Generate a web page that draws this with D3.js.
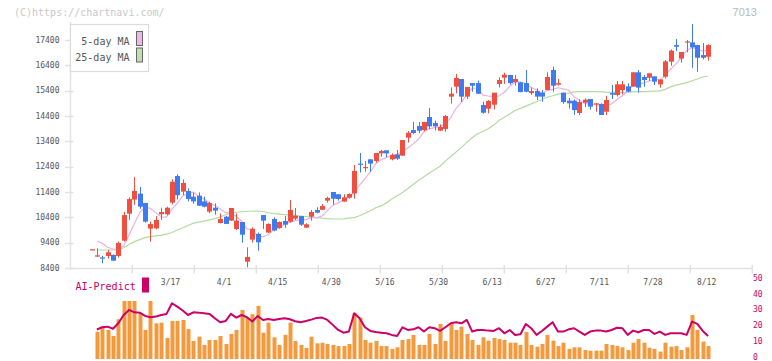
<!DOCTYPE html>
<html><head><meta charset="utf-8">
<script src="https://cdn.jsdelivr.net/npm/d3@7"></script>
<style>html,body{margin:0;padding:0;background:#fff;}svg{display:block;}</style>
</head><body>
<svg id="chart" width="772" height="361"></svg>
<script>
const dates = ["2/21","2/25","2/26","2/27","2/28","3/3","3/4","3/5","3/6","3/7","3/10","3/11","3/12","3/13","3/14","3/17","3/18","3/19","3/21","3/24","3/25","3/26","3/27","3/28","3/31","4/1","4/2","4/3","4/4","4/7","4/8","4/9","4/10","4/11","4/14","4/15","4/16","4/17","4/18","4/21","4/22","4/23","4/24","4/25","4/28","4/30","5/1","5/2","5/7","5/8","5/9","5/12","5/13","5/14","5/15","5/16","5/19","5/20","5/21","5/22","5/23","5/26","5/27","5/28","5/29","5/30","6/2","6/3","6/4","6/5","6/6","6/9","6/10","6/11","6/12","6/13","6/16","6/17","6/18","6/19","6/20","6/23","6/24","6/25","6/26","6/27","6/30","7/1","7/2","7/3","7/4","7/7","7/8","7/9","7/10","7/11","7/14","7/15","7/16","7/17","7/18","7/22","7/23","7/24","7/25","7/28","7/29","7/30","7/31","8/1","8/4","8/5","8/6","8/7","8/8","8/12"];
const tickLabels = ["3/17","4/1","4/15","4/30","5/16","5/30","6/13","6/27","7/11","7/28","8/12"];
const priceTicks = [8400,9400,10400,11400,12400,13400,14400,15400,16400,17400];
const predictTicks = [0,10,20,30,40,50];

const opens = [9140,8850,8820,8875,8915,8875,9480,10545,11100,11335,10965,9955,9965,10520,10520,10980,12030,11415,11440,11215,11255,11030,10625,10780,10175,10425,10270,9940,10215,8650,9520,9750,10490,9800,10335,9980,10255,10230,10350,10450,9995,10425,10690,10700,11060,11400,11310,11020,11175,11345,12520,12360,12690,12625,12925,13045,12690,12885,12835,13545,13845,14005,13845,14360,14125,13820,13890,15165,15560,15860,15165,15700,15700,14835,14690,14845,15665,15915,16020,15740,15730,15700,15305,15385,15320,15425,16215,15640,15320,15005,15005,14520,14925,15070,14875,14875,14570,15305,15230,15425,15570,15560,16125,15940,15910,15965,15650,15950,16545,17200,16665,17320,17305,17200,16805,16740];
const highs = [9150,9180,8875,9110,8940,9440,10620,11190,11990,11600,10965,10230,10450,10780,10820,11900,12100,11900,11545,11375,11385,11215,11020,10950,10555,10450,10770,10555,10215,9215,10000,9800,10490,10160,10400,10240,10450,11085,10770,10455,10165,10690,10795,10925,11215,11400,11310,11310,11345,12465,12940,12625,12690,12940,13060,13045,12925,13060,13452,13810,14165,14165,14165,14715,14215,14070,14440,15530,16060,15860,15545,15700,15795,14965,15030,15320,15925,16110,16020,16020,15730,16215,15520,15490,15425,16125,16345,15860,15320,15110,15055,15055,15095,15070,14905,14900,15200,15625,15780,15780,15690,16125,16215,16020,16085,15965,15845,16610,17030,17440,16925,17400,18030,17200,17280,17230];
const lows = [9130,8840,8585,8780,8690,8810,9440,10295,10890,10740,10190,9440,9925,10295,10480,10915,11110,11270,11030,10940,10850,10795,10555,10505,10165,10135,10268,9900,9400,8425,9400,9085,9940,9780,9850,9950,9990,10190,10295,10060,9980,10270,10560,10690,10980,10900,11060,11020,11140,11140,12165,12200,12200,12560,12795,12770,12650,12665,12834,13350,13690,13730,13795,13885,13835,13820,13780,14885,15295,14950,15070,15360,15265,14490,14505,14660,15530,15665,15635,15600,15335,15335,15240,15030,14965,15420,15360,15595,14885,14690,14440,14440,14755,14650,14570,14440,14440,15070,15165,15255,15335,15555,15320,15555,15780,15625,15520,15885,16385,16965,16505,16910,16305,16150,16635,16585];
const closes = [9140,8900,8800,9020,8690,9390,10490,11120,11440,10820,10230,10135,10295,10610,10780,11805,11270,11755,11125,11030,10860,10820,10965,10665,10335,10140,10770,10270,9715,8835,9950,9415,10270,10140,9880,10215,10110,10690,10465,10110,10125,10610,10585,10845,11165,11135,11125,11190,11320,12230,12490,12385,12520,12940,13020,12925,12860,12715,13450,13740,13730,13820,14165,13990,13990,13965,14400,15280,15900,15165,15545,15595,15280,14530,14990,15320,15820,16030,15700,15860,15345,15360,15385,15165,15165,15940,15595,15700,14950,14900,14635,14950,15045,14770,14900,14440,15030,15240,15650,15650,15360,16125,15520,15820,16085,15755,15845,16555,16980,17135,16925,17345,17110,16700,16700,17200];

const ma5 = [null,9466,9374,9216,9150,9150,9270,9700,10150,10600,10820,10750,10585,10420,10410,10725,10950,11245,11345,11395,11210,11120,10960,10870,10730,10585,10575,10435,10245,9945,9910,9635,9635,9720,9930,9985,10125,10205,10270,10320,10300,10400,10380,10455,10665,10870,10970,11090,11185,11400,11670,11925,12190,12515,12670,12760,12855,12890,12995,13140,13300,13490,13780,13890,13940,13985,14100,14325,14705,14940,15260,15495,15495,15225,15190,15145,15190,15340,15570,15745,15750,15660,15530,15425,15285,15405,15450,15515,15470,15415,15155,15025,14895,14860,14860,14820,14835,14875,15050,15200,15385,15605,15660,15695,15780,15860,15805,16010,16245,16455,16690,16990,17100,17045,16955,17010];
const ma25 = [null,9110,9110,9110,9110,9130,9200,9330,9440,9520,9600,9640,9670,9700,9740,9800,9900,9990,10080,10170,10210,10250,10300,10350,10420,10500,10560,10600,10620,10640,10640,10650,10630,10580,10550,10530,10510,10490,10470,10450,10430,10410,10390,10365,10350,10340,10335,10340,10370,10390,10460,10560,10660,10780,10850,10970,11120,11250,11380,11540,11700,11860,12000,12150,12280,12420,12620,12800,12980,13160,13360,13540,13700,13790,13900,14040,14220,14350,14480,14620,14700,14790,14880,14960,15040,15140,15200,15260,15290,15300,15350,15360,15360,15360,15360,15350,15340,15335,15335,15335,15340,15350,15360,15360,15370,15380,15390,15450,15550,15620,15670,15720,15790,15860,15940,15980];

const volume = [null,16.5,19.7,17.6,13.8,24.3,35.8,35.8,35.8,28.1,17.6,35.8,21.8,22.2,12.6,23.3,23.3,23.9,18.2,10.7,13.4,8.2,11.3,11.3,13.8,8.8,15.1,17.6,30.2,25,27.5,32.7,15.9,22.2,13,8.2,14.5,22.2,10.7,8.2,6.3,13.4,9.2,9.6,8.8,8.2,7.5,7.5,8.8,28.1,25.4,11.3,9.6,10.7,7.5,7.5,5.7,6.7,11.3,11.9,14.5,8.2,8.2,15.1,8.8,21.4,10.7,21.8,17.6,19.7,15.1,11.3,8.2,13,10.9,12.6,11.9,11.3,9.6,9.6,8.2,16.4,8.2,7.1,8.8,14.5,10.9,7.5,9.6,5.7,6.7,6.7,5,4.6,4.6,4.6,8.8,8.2,7.5,6.7,5,9.6,11.9,9.6,6.5,5.7,4,9.6,7.1,7.5,5,6.7,27,17.6,10.3,7.5];
const aiPredict = [null,17.9,19.3,19.7,18.4,21.8,27,30.2,28.7,28.5,26.4,25.6,26,27,27.7,34.4,32.3,29.8,27,28.7,28.5,28.1,27.7,25,22.5,23.2,27.7,25.4,27,25.6,22.9,26.4,23.9,24.5,23.9,24.5,25,24.3,23.1,22.5,23.2,24.1,25.2,25.4,23.9,20.8,17.6,15.9,16.6,28.1,25,19.3,17,16.3,15.9,15.5,14.5,13.8,19.3,17.6,18,19.3,16.6,19.3,18.7,17,19.3,21.8,22.5,21.8,23.9,16.6,17.6,17.6,17.2,17,18.7,15.5,17.6,14.5,14.9,21.4,18.7,14.5,17,19.7,22.5,16.6,16.6,18,18.7,16.6,14.5,16.6,17.2,17.2,16.6,17.6,19,18.7,14.5,17.2,16.2,17.6,17.6,15.1,16.6,14.5,15.5,15.5,15.5,14.5,22.9,21.4,17,13.8];

const UP = "#f04e3e", DOWN = "#3e7bf0", AXIS = "#e2e2e2", TXT = "#555", MAG = "#cc0066";
const svg = d3.select("#chart");

// scales
const x = d3.scaleLinear().domain([0, dates.length - 1]).range([91.5, 708.1]);
const gridX = d3.scaleLinear().domain([0, 11]).range([70.3, 752.3]);
const y = d3.scaleLinear().domain([8400, 17400]).range([268, 40]);
const yb = d3.scaleLinear().domain([0, 50]).range([358, 278.4]);

// watermark + code
svg.append("text").attr("x", 14).attr("y", 16).text("(C)https://chartnavi.com/")
  .attr("font-family", "DejaVu Sans Mono").attr("font-size", 10).attr("fill", "#c8c8c8");
svg.append("text").attr("x", 757).attr("y", 16).attr("text-anchor", "end").text("7013")
  .attr("font-family", "Liberation Sans").attr("font-size", 11).attr("fill", "#b8b8b8");

// axes
const ax = svg.append("g");
ax.append("line").attr("x1", 70.5).attr("x2", 70.5).attr("y1", 22).attr("y2", 270).attr("stroke", AXIS).attr("stroke-width", 1.5);
ax.append("line").attr("x1", 70).attr("x2", 752.5).attr("y1", 268.5).attr("y2", 268.5).attr("stroke", AXIS).attr("stroke-width", 1.5);
ax.selectAll(".gt").data(d3.range(1, 12)).join("line")
  .attr("x1", d => gridX(d)).attr("x2", d => gridX(d)).attr("y1", 265).attr("y2", 273.5)
  .attr("stroke", AXIS).attr("stroke-width", 1.5);
ax.selectAll(".yt").data(priceTicks).join("line")
  .attr("x1", 65).attr("x2", 73.5).attr("y1", d => Math.round(y(d)) + 0.5).attr("y2", d => Math.round(y(d)) + 0.5)
  .attr("stroke", AXIS).attr("stroke-width", 1.5);
ax.selectAll(".yl").data(priceTicks).join("text")
  .attr("x", 59.5).attr("y", d => y(d)).attr("dy", "0.33em").attr("text-anchor", "end")
  .attr("font-family", "DejaVu Sans Mono").attr("font-size", 8).attr("fill", TXT).text(d => d);
ax.selectAll(".xl").data(tickLabels).join("text")
  .attr("x", d => x(dates.indexOf(d)) - 1.5).attr("y", 285).attr("text-anchor", "middle")
  .attr("font-family", "DejaVu Sans Mono").attr("font-size", 8).attr("fill", TXT).text(d => d);

// MA lines
const idx = d3.range(dates.length);
const maLine = arr => d3.line().defined(i => arr[i] != null).x(i => x(i)).y(i => y(arr[i]))(idx);
svg.append("path").attr("d", maLine(ma25)).attr("fill", "none").attr("stroke", "#b2dba0").attr("stroke-width", 1.2);
svg.append("path").attr("d", maLine(ma5)).attr("fill", "none").attr("stroke", "#eab0ea").attr("stroke-width", 1.2);

// candles
const cg = svg.append("g");
cg.selectAll(".wick").data(idx).join("line")
  .attr("x1", i => Math.round(x(i)) + 0.5).attr("x2", i => Math.round(x(i)) + 0.5)
  .attr("y1", i => y(highs[i])).attr("y2", i => y(lows[i]))
  .attr("stroke", i => closes[i] >= opens[i] ? UP : DOWN).attr("stroke-width", 1);
cg.selectAll(".body").data(idx).join("rect")
  .attr("x", i => Math.round(x(i)) - 2).attr("width", 5)
  .attr("y", i => y(Math.max(opens[i], closes[i])))
  .attr("height", i => Math.max(1.2, Math.abs(y(opens[i]) - y(closes[i]))))
  .attr("fill", i => closes[i] >= opens[i] ? UP : DOWN);

// legend
const lg = svg.append("g");
lg.append("rect").attr("x", 70.5).attr("y", 24.5).attr("width", 78).attr("height", 47).attr("fill", "#fff").attr("stroke", "#dcdcdc").attr("stroke-width", 1.2);
const legendItems = [["5-day MA", "#eab8ea", 44.5], ["25-day MA", "#bde0ad", 61]];
legendItems.forEach(([t, c, yy]) => {
  lg.append("text").attr("x", 129.5).attr("y", yy).attr("text-anchor", "end")
    .attr("font-family", "DejaVu Sans Mono").attr("font-size", 10).attr("fill", "#555").text(t);
  lg.append("rect").attr("x", 136.5).attr("y", yy - 13).attr("width", 6).attr("height", 14)
    .attr("fill", c).attr("stroke", "#666").attr("stroke-width", 1);
});

// bottom panel
svg.append("text").attr("x", 75.5).attr("y", 290).text("AI-Predict")
  .attr("font-family", "DejaVu Sans Mono").attr("font-size", 10).attr("fill", MAG);
svg.append("rect").attr("x", 142).attr("y", 277.5).attr("width", 7).attr("height", 15).attr("fill", MAG);
svg.selectAll(".rl").data(predictTicks).join("text")
  .attr("x", 753).attr("y", d => yb(d) + 2.2)
  .attr("font-family", "DejaVu Sans Mono").attr("font-size", 8).attr("fill", MAG).text(d => d);
svg.append("g").selectAll("rect").data(idx.filter(i => volume[i] != null)).join("rect")
  .attr("x", i => Math.round(x(i)) - 1.5).attr("width", 4)
  .attr("y", i => yb(volume[i])).attr("height", i => yb(0) - yb(volume[i]) + 1)
  .attr("fill", "#f39a3e");
svg.append("path")
  .attr("d", d3.line().defined(i => aiPredict[i] != null).x(i => x(i)).y(i => yb(aiPredict[i]))(idx))
  .attr("fill", "none").attr("stroke", MAG).attr("stroke-width", 2).attr("stroke-linejoin", "round");
</script>
</body></html>
